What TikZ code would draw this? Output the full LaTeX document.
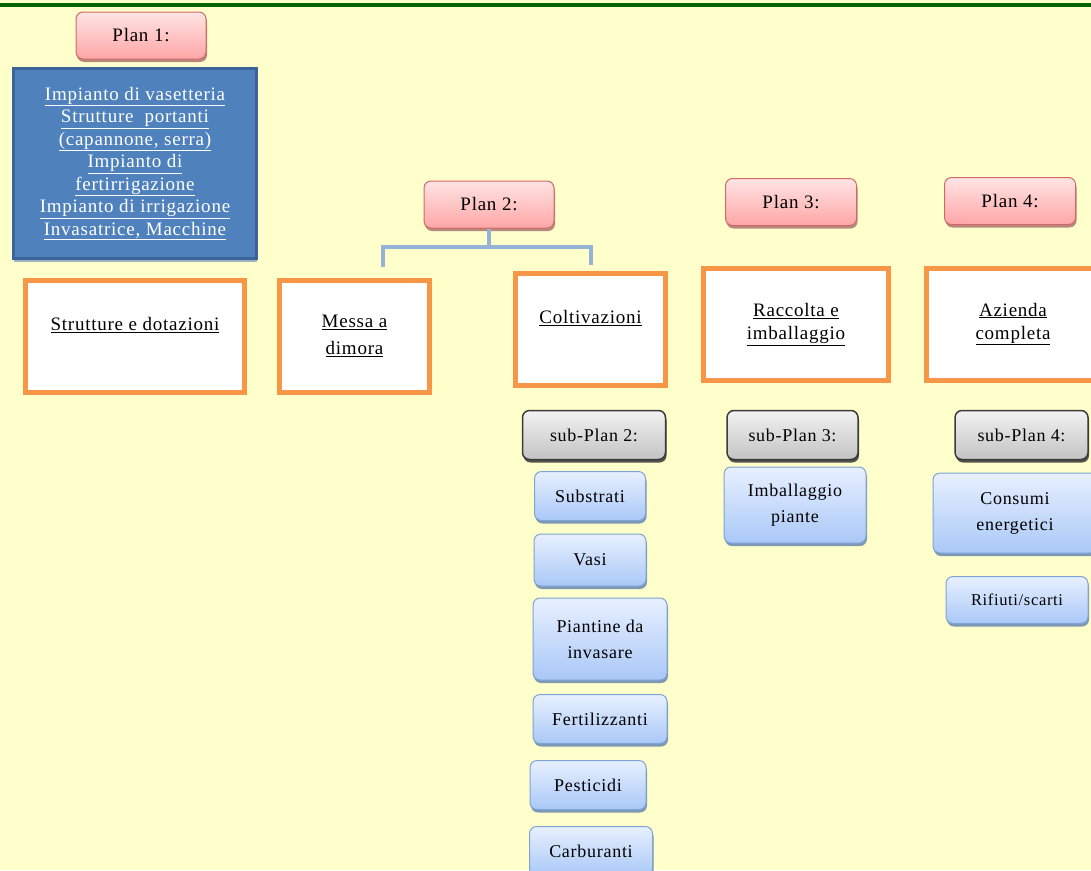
\documentclass[tikz,border=0pt]{standalone}
\usepackage{fontspec}
\setmainfont{Liberation Serif}[LetterSpace=4]
\usepackage{xcolor}
\usetikzlibrary{shadows,positioning}

\definecolor{bgyellow}{HTML}{FFFFCC}
\definecolor{topgreen}{HTML}{006400}
\definecolor{pinkedge}{HTML}{D0696A}
\definecolor{pinktop}{HTML}{FFE4E4}
\definecolor{pinkbot}{HTML}{FFA6A6}
\definecolor{pinkshade}{HTML}{A56B6B}
\definecolor{bluefill}{HTML}{4F81BD}
\definecolor{blueedge}{HTML}{3B659A}
\definecolor{orangeedge}{HTML}{F79646}
\definecolor{greyedge}{HTML}{3A3A3A}
\definecolor{greytop}{HTML}{F2F2F2}
\definecolor{greybot}{HTML}{C3C3C3}
\definecolor{lightedge}{HTML}{7FA3D3}
\definecolor{lighttop}{HTML}{E8F0FF}
\definecolor{lightbot}{HTML}{A9C8F7}
\definecolor{lightshade}{HTML}{5F80B0}
\definecolor{bracketblue}{HTML}{95B3D7}

\begin{document}
\begin{tikzpicture}[x=1pt, y=-1pt,
    planbox/.style={draw=pinkedge, line width=1pt, rounded corners=7pt,
        top color=pinktop, bottom color=pinkbot,
        drop shadow={shadow xshift=1pt, shadow yshift=-3pt, fill=pinkshade, opacity=0.8},
        minimum width=130pt, minimum height=47pt, inner sep=2pt,
        font=\fontsize{19}{23}\selectfont},
    subplanbox/.style={draw=greyedge, line width=1.5pt, rounded corners=7pt,
        top color=greytop, bottom color=greybot,
        drop shadow={shadow xshift=1pt, shadow yshift=-3pt, fill=black!75, opacity=0.9},
        minimum width=131pt, minimum height=49pt, inner sep=2pt,
        font=\fontsize{18}{22}\selectfont},
    itembox/.style={draw=lightedge, line width=1pt, rounded corners=7pt,
        top color=lighttop, bottom color=lightbot,
        drop shadow={shadow xshift=1pt, shadow yshift=-3pt, fill=lightshade, opacity=0.8},
        minimum height=49pt, inner sep=2pt, align=center,
        font=\fontsize{18}{26}\selectfont},
    phasebox/.style={draw=orangeedge, line width=5pt, fill=white,
        drop shadow={shadow xshift=1pt, shadow yshift=-2pt, fill=orangeedge!60, opacity=0.6},
        minimum height=112pt, inner sep=2pt, align=center,
        font=\fontsize{19}{24}\selectfont},
    bracket/.style={bracketblue, line width=4pt}]

    % background and top rule
    \fill[bgyellow] (0,0) rectangle (1091,870);
    \useasboundingbox (0,0) rectangle (1091,870);
    \draw[topgreen, line width=4pt] (0,5) -- (1091,5);

    % plans
    \node[planbox] (planone) at (141,35.5) {Plan 1:};
    \node[planbox] (plantwo) at (489,204.5) {Plan 2:};
    \node[planbox, minimum width=131pt] (planthree) at (791,202) {Plan 3:};
    \node[planbox, minimum width=131pt] (planfour) at (1010,201) {Plan 4:};

    % equipment list
    \node[draw=blueedge, line width=3pt, fill=bluefill, text=white,
          drop shadow={shadow xshift=0pt, shadow yshift=-3pt, fill=blueedge!70, opacity=0.7},
          minimum width=243pt, minimum height=190pt, align=center, inner sep=1pt,
          font=\fontsize{19}{22.5}\selectfont] (equip) at (135,163.5)
        {\underline{Impianto di vasetteria}\\
         \underline{Strutture\ \ portanti}\\
         \underline{(capannone, serra)}\\
         \underline{Impianto di}\\
         \underline{fertirrigazione}\\
         \underline{Impianto di irrigazione}\\
         \underline{Invasatrice, Macchine}};

    % phases
    \node[phasebox, minimum width=219pt] (strutture) at (135,336)
        {\underline{Strutture e dotazioni}\\ \mbox{}};
    \node[phasebox, minimum width=150pt] (messa) at (354.5,336)
        {\underline{Messa a}\\[3pt]\underline{dimora}};
    \node[phasebox, minimum width=150pt] (coltiv) at (590.5,329)
        {\underline{Coltivazioni}\\ \mbox{}};
    \node[phasebox, minimum width=185pt] (raccolta) at (796,324.5)
        {\underline{Raccolta e}\\[-1pt]\underline{imballaggio}};
    \node[phasebox, minimum width=173pt] (azienda) at (1013,324)
        {\underline{Azienda}\\[-1pt]\underline{completa}};

    % bracket from plan 2
    \coordinate (legmessa) at (383,267);
    \draw[bracket] (plantwo.south) -- (plantwo.south |- 0,247);
    \draw[bracket] (legmessa) |- (coltiv.north |- 0,247) -- ([yshift=6pt]coltiv.north);

    % sub-plans
    \node[subplanbox, minimum width=143pt] (subtwo) at (594,435) {sub-Plan 2:};
    \node[subplanbox] (subthree) at (792.5,435) {sub-Plan 3:};
    \node[subplanbox, minimum width=133pt] (subfour) at (1021.5,435) {sub-Plan 4:};

    % items of sub-plan 2
    \node[itembox, minimum width=111pt] (substrati) at (590,496) {Substrati};
    \node[itembox, minimum width=112pt, minimum height=52pt] (vasi) at (590,560) {Vasi};
    \node[itembox, minimum width=134pt, minimum height=82pt] (piantine) at (600,639)
        {Piantine da\\invasare};
    \node[itembox, minimum width=134pt] (fertil) at (600,719) {Fertilizzanti};
    \node[itembox, minimum width=116pt] (pestic) at (588,785) {Pesticidi};
    \node[itembox, minimum width=123pt] (carbur) at (591,851) {Carburanti};

    % items of sub-plan 3 and 4
    \node[itembox, minimum width=142pt, minimum height=76pt] (imball) at (795,505)
        {Imballaggio\\piante};
    \node[itembox, minimum width=164pt, minimum height=80pt] (consumi) at (1015,513)
        {Consumi\\energetici};
    \node[itembox, minimum width=142pt, minimum height=47pt,
          font=\fontsize{16.5}{20}\selectfont] (rifiuti) at (1017,600) {Rifiuti/scarti};
\end{tikzpicture}
\end{document}
